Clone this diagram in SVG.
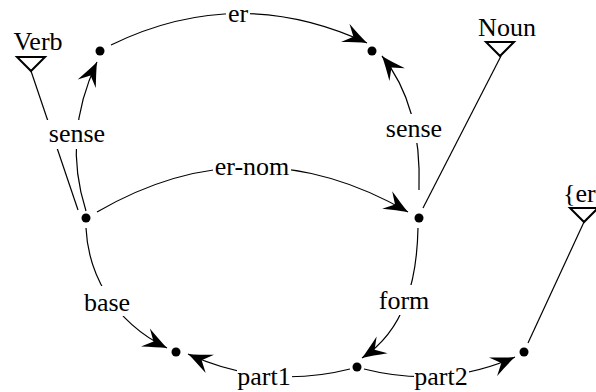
<svg xmlns="http://www.w3.org/2000/svg" width="596" height="392" viewBox="0 0 596 392">
<defs>
<style>
.c{fill:none;stroke:#000;stroke-width:1.2}
.a{marker-end:url(#arr)}
.t{font-family:'Liberation Serif','Times New Roman',Tinos,'DejaVu Serif',serif;font-size:26px;fill:#000}
.m{text-anchor:middle}
.bg{fill:#fff}
.tri{fill:none;stroke:#000;stroke-width:2;stroke-linejoin:miter}
.dot{fill:#000}
</style>
<marker id="arr" markerUnits="userSpaceOnUse" orient="auto" overflow="visible" markerWidth="1" markerHeight="1" refX="0" refY="0">
<path d="M0,0 C-7,-2.5 -15,-6 -24,-10 L-15,0 L-24,10 C-15,6 -7,2.5 0,0Z" fill="#000"/>
</marker>
</defs>
<rect width="596" height="392" fill="#fff"/>
<g id="connectors">
<path class="c" d="M31,71 L78,210"/>
<path class="c a" d="M86,211 Q62,136 97,62"/>
<path class="c a" d="M111,45 Q238,-17 367,43"/>
<path class="c a" d="M97,212 Q252,122 408,212"/>
<path class="c a" d="M419,190 Q422,105 382,56"/>
<path class="c" d="M501,56 L423,208"/>
<path class="c a" d="M86,228 C88,270 110,320 167,348"/>
<path class="c a" d="M418,228 C417,280 405,330 362,358"/>
<path class="c a" d="M350,369 Q267,390 188,354"/>
<path class="c a" d="M364,369 Q443,389 515,357"/>
<path class="c" d="M584,222 L528,343"/>
</g>
<g id="labels" font-family="Liberation Serif, serif">
<rect class="bg" x="226" y="-1" width="24" height="29"/>
<text class="t m" x="238" y="22">er</text>
<rect class="bg" x="213" y="152" width="78" height="29"/>
<text class="t m" x="252" y="175">er-nom</text>
<rect class="bg" x="47" y="120" width="60" height="29"/>
<text class="t m" x="77" y="142">sense</text>
<rect class="bg" x="384" y="114" width="60" height="29"/>
<text class="t m" x="414" y="137">sense</text>
<rect class="bg" x="83" y="286" width="48" height="30"/>
<text class="t m" x="107" y="311">base</text>
<rect class="bg" x="377" y="285" width="54" height="30"/>
<text class="t m" x="404" y="309">form</text>
<rect class="bg" x="237" y="362" width="55" height="30"/>
<text class="t m" x="264" y="385">part1</text>
<rect class="bg" x="414" y="362" width="55" height="30"/>
<text class="t m" x="441" y="385">part2</text>
</g>
<g id="n-verb" font-family="Liberation Serif, serif">
<text class="t m" x="38" y="50">Verb</text>
<polygon class="tri" points="17,57 45,57 31,71"/>
</g>
<g id="n-noun" font-family="Liberation Serif, serif">
<text class="t m" x="507" y="36">Noun</text>
<polygon class="tri" points="486,42 514,42 500,56"/>
</g>
<g id="n-er" font-family="Liberation Serif, serif">
<text class="t" x="563" y="202">{er</text>
<polygon class="tri" points="570,208 598,208 584,222"/>
</g>
<g id="n-a"><circle class="dot" cx="100" cy="51" r="4.5"/></g>
<g id="n-b"><circle class="dot" cx="372" cy="51" r="4.5"/></g>
<g id="n-c"><circle class="dot" cx="86" cy="218" r="4.5"/></g>
<g id="n-d"><circle class="dot" cx="419" cy="218" r="4.5"/></g>
<g id="n-e"><circle class="dot" cx="176" cy="352" r="4.5"/></g>
<g id="n-f"><circle class="dot" cx="357" cy="367" r="4.5"/></g>
<g id="n-g"><circle class="dot" cx="524" cy="352" r="4.5"/></g>
</svg>
